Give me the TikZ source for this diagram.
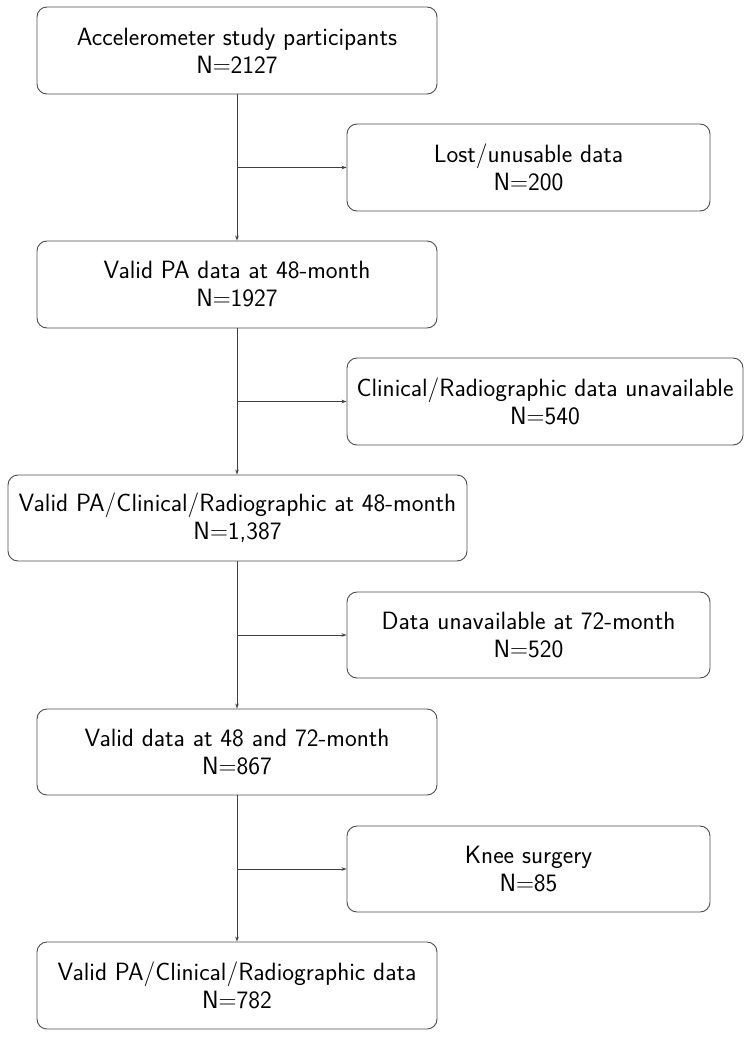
\documentclass[tikz,border=0pt]{standalone}
\usepackage{fontspec}
\usetikzlibrary{arrows.meta}
\begin{document}
\begin{tikzpicture}[x=1pt,y=-1pt,
  box/.style={draw=black!70, line width=0.9pt, rounded corners=10pt, align=center,
    inner sep=0pt, font=\sffamily\fontsize{25}{28}\selectfont, text=black},
  conn/.style={draw=black!75, line width=0.8pt, -{Stealth[length=5pt,width=3.5pt]}}]
\useasboundingbox (0,0) rectangle (751,1038);
\node[box, minimum width=400pt, minimum height=87pt] (b1) at (237,50.5) {Accelerometer study participants\\N$=$2127};
\node[box, minimum width=363pt, minimum height=87pt] (r1) at (528.5,167.5) {Lost/unusable data\\N$=$200};
\node[box, minimum width=400pt, minimum height=87pt] (b2) at (237,284.5) {Valid PA data at 48-month\\N$=$1927};
\node[box, minimum width=396pt, minimum height=87pt] (r2) at (545,401.5) {Clinical/Radiographic data unavailable\\N$=$540};
\node[box, minimum width=459pt, minimum height=86pt] (b3) at (237.5,518) {Valid PA/Clinical/Radiographic at 48-month\\N$=$1,387};
\node[box, minimum width=363pt, minimum height=86pt] (r3) at (528.5,635) {Data unavailable at 72-month\\N$=$520};
\node[box, minimum width=400pt, minimum height=86pt] (b4) at (237,752) {Valid data at 48 and 72-month\\N$=$867};
\node[box, minimum width=363pt, minimum height=86pt] (r4) at (528.5,869) {Knee surgery\\N$=$85};
\node[box, minimum width=400pt, minimum height=87pt] (b5) at (237,985.5) {Valid PA/Clinical/Radiographic data\\N$=$782};
\coordinate (j1) at (237,167.5);
\coordinate (j2) at (237,401.5);
\coordinate (j3) at (237,635);
\coordinate (j4) at (237,869);
\draw[conn] (b1.south) -- (b2.north);
\draw[conn] (b2.south) -- (b3.north -| b2.south);
\draw[conn] (b3.south -| b2.south) -- (b4.north);
\draw[conn] (b4.south) -- (b5.north);
\draw[conn] (j1) -- (r1.west);
\draw[conn] (j2) -- (r2.west);
\draw[conn] (j3) -- (r3.west);
\draw[conn] (j4) -- (r4.west);
\end{tikzpicture}
\end{document}
